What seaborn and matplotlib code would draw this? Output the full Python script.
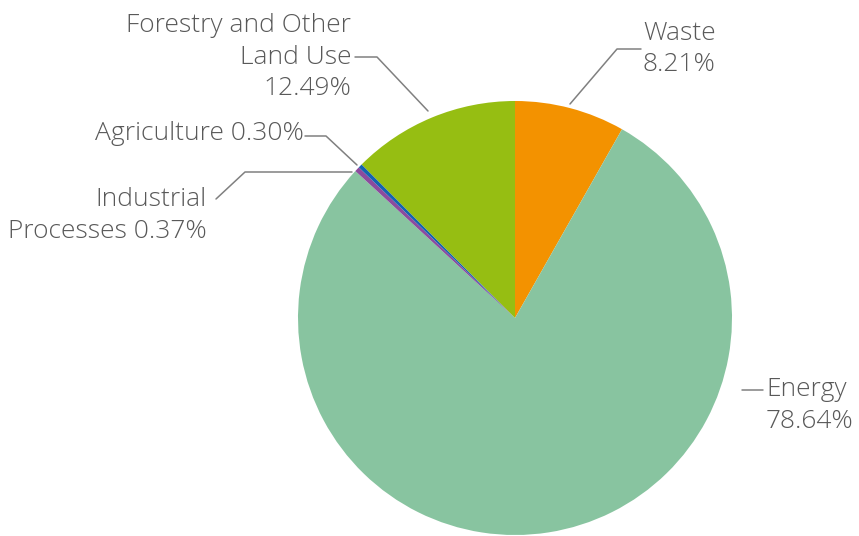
import matplotlib
matplotlib.use("Agg")
import matplotlib.pyplot as plt
import seaborn as sns

# Emissions share by sector (percent)
sectors = ["Waste", "Energy", "Industrial Processes", "Agriculture", "Forestry and Other Land Use"]
shares = [8.21, 78.64, 0.37, 0.30, 12.49]
label_text = ["Waste\n{v}", "Energy\n{v}", "Industrial\nProcesses {v}", "Agriculture {v}",
              "Forestry and Other\nLand Use\n{v}"]
colors = ["#F39200", "#88C4A0", "#8C4B9E", "#1463B0", "#96BE12"]

W, H = 859, 536
sns.set_theme(style="white")
plt.rcParams["font.family"] = ["Open Sans", "DejaVu Sans"]

fig = plt.figure(figsize=(W / 100, H / 100), dpi=100)
ax = fig.add_axes([0, 0, 1, 1])


def px(x, y):
    return (x, H - y)


cx, cy = px(515, 318)
ax.pie(shares, colors=colors, startangle=90, counterclock=False,
       center=(cx, cy), radius=217, frame=True,
       wedgeprops=dict(linewidth=0))
ax.set_xlim(0, W)
ax.set_ylim(0, H)
ax.set_aspect("equal")
ax.axis("off")

line_kw = dict(color="#808080", lw=1.1)
text_kw = dict(color="#595959", fontsize=19, fontweight="light")

# leader line vertices (pixel space, y downward)
leaders = {
    "Waste": [(570, 104), (617, 49), (641, 49)],
    "Energy": [(742, 390), (763, 390)],
    "Industrial Processes": [(352, 172), (245, 172), (216, 199)],
    "Agriculture": [(357, 165), (326, 136), (305, 136)],
    "Forestry and Other Land Use": [(428, 111), (377, 57), (355, 57)],
}
# label anchor, alignment, and which text line sits at the anchor height
anchors = {
    "Waste": ((643, 49), "left", 0.5),
    "Energy": ((766, 390), "left", 0),
    "Industrial Processes": ((207, 200), "right", 0),
    "Agriculture": ((304, 134), "right", 0),
    "Forestry and Other Land Use": ((351, 57), "right", 1),
}

step = 31.5
for name, val, tmpl in zip(sectors, shares, label_text):
    pts = [px(x, y) for x, y in leaders[name]]
    ax.plot([p[0] for p in pts], [p[1] for p in pts], **line_kw)
    (x, y), ha, center_line = anchors[name]
    lines = tmpl.format(v=f"{val:.2f}%").split("\n")
    for i, ln in enumerate(lines):
        ax.text(x, H - (y + (i - center_line) * step), ln, ha=ha, va="center", **text_kw)

fig.savefig("out.png", dpi=100)
